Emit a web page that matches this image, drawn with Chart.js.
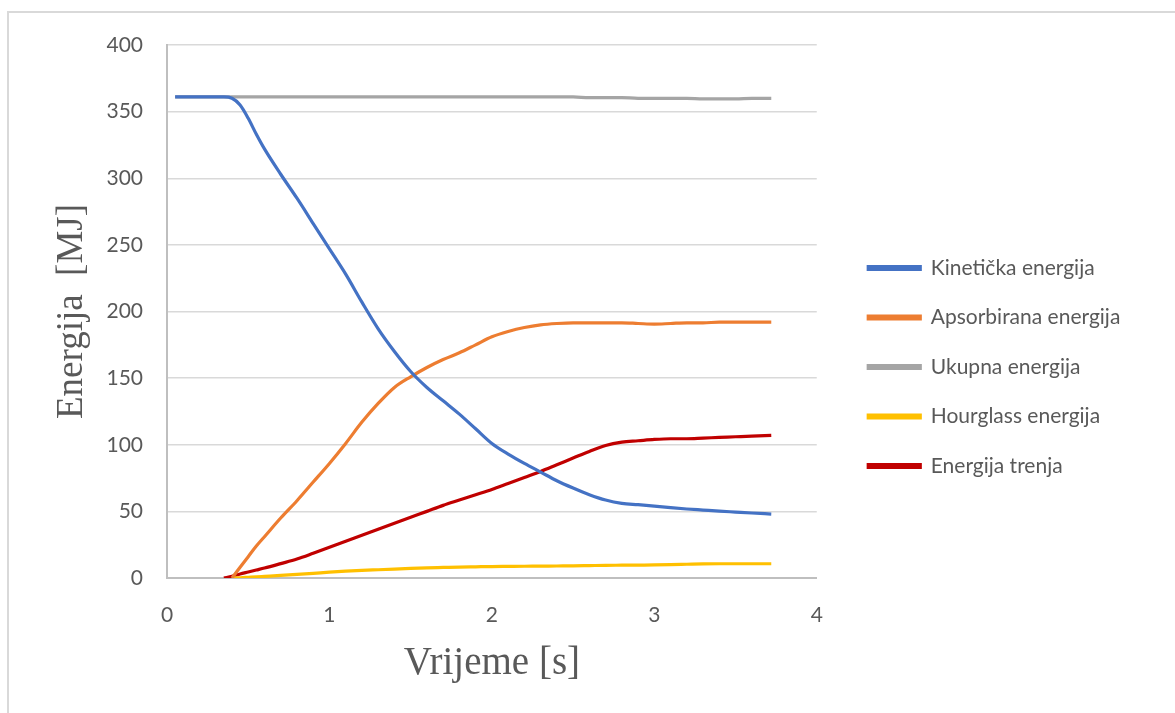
<!DOCTYPE html>
<html>
<head>
<meta charset="utf-8">
<script src="https://cdn.jsdelivr.net/npm/chart.js@4"></script>
<style>
  html, body { margin: 0; padding: 0; background: #fff; }
  #wrap { position: relative; width: 1175px; height: 713px; }
  #frame { position: absolute; left: 7px; top: 11px; right: 0; bottom: 0;
           border-top: 2px solid #d9d9d9; border-left: 2px solid #d9d9d9; }
  #energyChart { position: absolute; left: 0; top: 0; }
</style>
</head>
<body>
<div id="wrap">
  <div id="frame"></div>
  <canvas id="energyChart" width="1175" height="713"></canvas>
</div>
<script>
const times = [0.05, 0.35, 0.40, 0.45, 0.50, 0.55, 0.60, 0.70, 0.80, 0.90, 1.00, 1.10, 1.20, 1.30, 1.40, 1.50, 1.60, 1.70, 1.80, 1.90,
               2.00, 2.10, 2.20, 2.30, 2.40, 2.50, 2.60, 2.70, 2.80, 2.90, 3.00, 3.10, 3.20, 3.30, 3.40, 3.50, 3.60, 3.72];

const kineticka = [361, 361, 360, 355, 345, 333, 322, 303, 285, 266, 247, 228, 207, 187, 170, 155, 143, 133, 123, 112,
                   101, 93, 86, 79.5, 73, 67.5, 62.5, 58.5, 56, 55, 54, 52.8, 51.8, 51, 50.2, 49.5, 48.8, 48];
const apsorbirana = [null, null, 0, 8, 16, 24, 31, 45, 58, 72, 86, 101, 117, 131, 143, 151, 158, 164, 169, 175,
                     181, 185, 188, 190, 191, 191.5, 191.5, 191.5, 191.5, 191, 190.5, 191, 191.5, 191.5, 192, 192, 192, 192];
const ukupna = [361, 361, 361, 361, 361, 361, 361, 361, 361, 361, 361, 361, 361, 361, 361, 361, 361, 361, 361, 361,
                361, 361, 361, 361, 361, 361, 360.5, 360.5, 360.5, 360, 360, 360, 360, 359.5, 359.5, 359.5, 360, 360];
const hourglass = [null, null, 0, 0.2, 0.5, 0.8, 1.2, 2, 2.7, 3.5, 4.4, 5.1, 5.7, 6.2, 6.7, 7.2, 7.6, 7.9, 8.2, 8.4,
                   8.6, 8.7, 8.8, 8.9, 9, 9.1, 9.3, 9.5, 9.6, 9.7, 9.8, 10, 10.3, 10.6, 10.7, 10.7, 10.7, 10.7];
const trenje = [null, 0, 1.2, 3, 4.5, 6, 7.5, 10.8, 14.2, 18.5, 23, 27.5, 32, 36.5, 41, 45.5, 50, 54.5, 58.5, 62.5,
                66.5, 71, 75.5, 80, 85, 90, 95, 99.5, 102, 103, 104, 104.5, 104.5, 105, 105.5, 106, 106.5, 107];

const seriesNames = ["Kinetička energija", "Apsorbirana energija", "Ukupna energija", "Hourglass energija", "Energija trenja"];
const seriesColors = ["#4472C4", "#ED7D31", "#A5A5A5", "#FFC000", "#C00000"];
const seriesValues = [kineticka, apsorbirana, ukupna, hourglass, trenje];

const yTicks = [0, 50, 100, 150, 200, 250, 300, 350, 400];
const xTicks = [0, 1, 2, 3, 4];

const tickColor = "#595959";

function makeDataset(i) {
  return {
    label: seriesNames[i],
    data: times.map((t, k) => ({ x: t, y: seriesValues[i][k] })),
    borderColor: seriesColors[i],
    backgroundColor: seriesColors[i],
    borderWidth: 3.2,
    pointRadius: 0,
    cubicInterpolationMode: 'monotone',
    spanGaps: false
  };
}

// legend sits right on the plot edge by default, push it over a bit
// and let it use the space up to the canvas edge so labels aren't cut
const legendGap = {
  id: 'legendGap',
  afterLayout(chart) {
    const lg = chart.legend;
    lg.left += 23;
    lg.right = chart.width;
    lg.width = lg.right - lg.left;
  }
};

new Chart(document.getElementById("energyChart"), {
  type: 'line',
  data: { datasets: seriesNames.map((n, i) => makeDataset(i)) },
  plugins: [legendGap],
  options: {
    responsive: false,
    animation: false,
    layout: { padding: { top: 45, bottom: 24, left: 0, right: 86 } },
    plugins: {
      tooltip: { enabled: false },
      legend: {
        position: 'right',
        labels: {
          boxWidth: 52,
          boxHeight: 3,
          padding: 28.5,
          color: tickColor,
          font: { family: "Lato", size: 21 }
        }
      }
    },
    scales: {
      x: {
        type: 'linear',
        min: xTicks[0],
        max: xTicks[xTicks.length - 1],
        afterBuildTicks: s => { s.ticks = xTicks.map(v => ({ value: v })); },
        afterFit: s => { s.height = 111; },
        grid: { display: false, drawTicks: false },
        border: { color: "#bfbfbf", width: 2 },
        ticks: { padding: 25, color: tickColor, font: { family: "Lato", size: 21 } },
        title: {
          display: true,
          text: "Vrijeme [s]",
          color: tickColor,
          padding: { top: 0, bottom: 2 },
          font: { family: "Liberation Serif", size: 39 }
        }
      },
      y: {
        min: yTicks[0],
        max: yTicks[yTicks.length - 1],
        afterBuildTicks: s => { s.ticks = yTicks.map(v => ({ value: v })); },
        afterFit: s => { s.width = 167; },
        grid: { color: "#d9d9d9", lineWidth: 1.5, drawTicks: false },
        border: { color: "#bfbfbf", width: 2 },
        ticks: { padding: 24, color: tickColor, font: { family: "Lato", size: 21 } },
        title: {
          display: true,
          text: "Energija  [MJ]",
          color: tickColor,
          padding: { top: 50, bottom: 0 },
          font: { family: "Liberation Serif", size: 37 }
        }
      }
    }
  }
});
</script>
</body>
</html>
